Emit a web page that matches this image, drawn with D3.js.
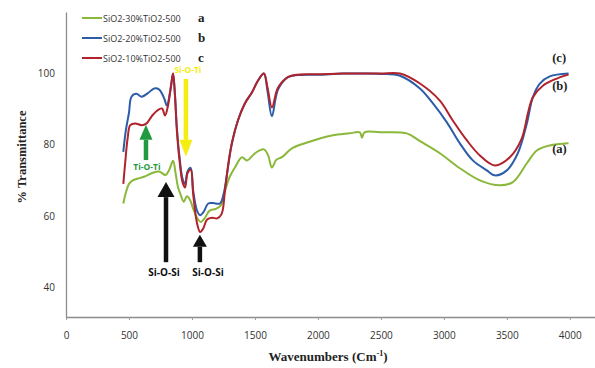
<!DOCTYPE html>
<html>
<head>
<meta charset="utf-8">
<script src="https://cdn.jsdelivr.net/npm/d3@7"></script>
<style>
  body { margin: 0; background: #fff; }
  #wrapper svg { display: block; }
  .tick text { font-family: "Open Sans", sans-serif; font-size: 10px; fill: #333; }
</style>
</head>
<body>
<div id="wrapper"></div>
<script>
// series labels (legend + right-hand letters)
const seriesNames = ["SiO2-30%TiO2-500", "SiO2-20%TiO2-500", "SiO2-10%TiO2-500"]
const seriesLetters = ["a", "b", "c"]
const xTickValues = [0, 500, 1000, 1500, 2000, 2500, 3000, 3500, 4000]
const yTickValues = [40, 60, 80, 100]

// [wavenumber, % transmittance]
const seriesA = [[455,63.5],[475,66.5],[500,69],[530,70],[570,70.5],[620,71],[680,72],[740,72.5],[790,71.5],[820,73],[850,75.5],[870,72],[890,68],[910,66],[935,64],[960,65.5],[985,64.5],[1010,62],[1040,59.5],[1070,58.3],[1100,59.3],[1140,61.5],[1190,62],[1230,63],[1262,67],[1300,71],[1341,73.6],[1397,76.5],[1437,75.6],[1500,77.6],[1571,78.7],[1605,77],[1635,73.6],[1670,75.8],[1714,76.5],[1794,79],[1921,80.7],[2111,82.6],[2250,83.2],[2333,83.5],[2350,82],[2370,83.5],[2492,83.5],[2706,83.2],[2810,81],[2968,77.6],[3127,73.4],[3286,70],[3444,68.6],[3548,69.5],[3659,74.8],[3738,78.4],[3841,79.8],[3990,80.4]]
const seriesB = [[455,78],[475,84],[500,89],[520,93.5],[560,94.3],[600,93.5],[650,94.5],[700,95.8],[740,95.5],[780,93],[800,91],[830,95.5],[850,100],[865,94],[880,85],[900,77],[925,70.5],[945,69],[965,72.5],[990,73.5],[1010,67],[1040,61.5],[1065,60.2],[1090,61],[1130,63.5],[1167,63.6],[1222,63.5],[1250,66],[1275,71],[1317,80.4],[1365,86.8],[1420,91.6],[1476,94.7],[1524,98],[1571,100],[1600,95],[1635,88],[1683,95.5],[1762,99],[1841,99.6],[2000,99.7],[2200,100],[2350,100],[2500,99.9],[2651,99.4],[2810,95.8],[2913,91.6],[3024,86.3],[3127,80.4],[3230,75.6],[3341,72.8],[3405,71.4],[3500,72.8],[3587,77.6],[3659,86],[3706,93.3],[3762,97.2],[3841,99.2],[3990,100]]
const seriesC = [[455,69],[470,75],[490,82],[510,85.5],[550,86],[600,85.5],[640,86],[680,88],[720,89.5],[762,90.2],[786,88.2],[810,91],[835,97],[850,100],[865,94],[880,84],[900,76],[925,69.5],[945,68],[965,72],[990,73],[1010,66],[1040,58],[1065,55.5],[1090,56.5],[1120,59],[1160,59.5],[1200,59.3],[1235,60.5],[1262,67],[1290,75],[1317,80.4],[1365,86.8],[1420,91.6],[1476,94.7],[1524,98],[1571,100],[1600,96],[1635,90.5],[1683,96],[1762,99],[1841,99.7],[2000,99.8],[2200,100],[2350,100],[2500,100],[2651,100],[2810,97.2],[2968,92.4],[3071,86.8],[3183,81.2],[3286,77],[3405,74.2],[3524,76.5],[3619,81.8],[3667,88.8],[3706,93.3],[3786,96.6],[3897,98.6],[3990,99.7]]

// band annotations: [label, wavenumber, tail %T, tip %T, label wavenumber, label %T]
const bandNotes = [
  ["Si-O-Ti", 952, 98.5, 76.6, 968, 100.3],
  ["Ti-O-Ti", 635, 75.7, 85.6, 643, 72.9],
  ["Si-O-Si", 794, 47, 69.5, 778, 43],
  ["Si-O-Si", 1063, 47, 54.7, 1127, 43]
]

function drawChart() {
  const dims = {
    width: 595,
    height: 368,
    margin: { top: 12, right: 0, bottom: 51, left: 66 },
  }
  dims.boundWidth = dims.width - dims.margin.left - dims.margin.right
  dims.boundHeight = dims.height - dims.margin.top - dims.margin.bottom

  const svg = d3.select("#wrapper")
    .append("svg")
      .attr("width", dims.width)
      .attr("height", dims.height)

  const bound = svg.append("g")
    .attr("transform", `translate(${dims.margin.left},${dims.margin.top})`)

  const xScale = d3.scaleLinear()
    .domain([0, 4200])
    .range([0, dims.boundWidth])

  const yScale = d3.scaleLinear()
    .domain([31.6, 117.3])
    .range([dims.boundHeight, 0])

  // axes
  const xAxis = bound.append("g")
    .attr("transform", `translate(0,${dims.boundHeight})`)
    .call(d3.axisBottom(xScale).tickValues(xTickValues).tickFormat(d3.format("d"))
      .tickSize(3).tickPadding(12).tickSizeOuter(0))
  const yAxis = bound.append("g")
    .call(d3.axisLeft(yScale).tickValues(yTickValues).tickSize(0).tickPadding(11).tickSizeOuter(0))
  bound.selectAll(".domain").attr("stroke", "#8c8c8c").attr("stroke-width", 1.3)
  bound.selectAll(".tick line").attr("stroke", "#9a9a9a")

  // curves
  const colors = ["#8ab83a", "#2d5ca8", "#b0232b"]
  const line = d3.line()
    .x(d => xScale(d[0]))
    .y(d => yScale(d[1]))
    .curve(d3.curveCatmullRom.alpha(0.5))
  const allSeries = [seriesA, seriesB, seriesC]
  allSeries.forEach((s, i) => {
    bound.append("path")
      .attr("d", line(s))
      .attr("fill", "none")
      .attr("stroke", colors[i])
      .attr("stroke-width", 2)
      .attr("stroke-linejoin", "round")
  })

  // legend
  const legend = svg.append("g").attr("transform", "translate(82,18)")
  seriesNames.forEach((name, i) => {
    const row = legend.append("g").attr("transform", `translate(0,${i * 20})`)
    row.append("line").attr("x1", 0).attr("x2", 20)
      .attr("stroke", colors[i]).attr("stroke-width", 2)
    row.append("text").attr("x", 21).attr("y", 3.5)
      .style("font-family", "'Open Sans', sans-serif").style("font-size", "9px")
      .attr("fill", "#333").text(name)
    row.append("text").attr("x", 116).attr("y", 3.5)
      .style("font-family", "'Liberation Serif', serif").style("font-size", "13px").style("font-weight", "bold")
      .attr("fill", "#222").text(seriesLetters[i])
  })

  // right-hand letters next to curve ends
  const endLabels = [["(c)", 104.5], ["(b)", 96.6], ["(a)", 78.8]]
  endLabels.forEach(([t, v]) => {
    bound.append("text")
      .attr("x", xScale(3860)).attr("y", yScale(v) + 4)
      .style("font-family", "'Liberation Serif', serif").style("font-size", "12.5px").style("font-weight", "bold")
      .attr("fill", "#222").text(t)
  })

  // band arrows
  const arrowColors = ["#f4ee12", "#1f9a3e", "#111", "#111"]
  const headSize = [[13, 17], [13, 15], [17, 15], [14, 12]]
  bandNotes.forEach((n, i) => {
    const [label, wn, tailT, tipT, lwn, lT] = n
    const x = xScale(wn), y0 = yScale(tailT), y1 = yScale(tipT)
    const dir = y1 < y0 ? 1 : -1
    const [hw, hl] = headSize[i]
    const base = y1 + dir * hl
    const g = bound.append("g")
    g.append("line").attr("x1", x).attr("x2", x).attr("y1", y0).attr("y2", base)
      .attr("stroke", arrowColors[i]).attr("stroke-width", 4.5)
    g.append("path")
      .attr("d", `M${x - hw / 2},${base}L${x + hw / 2},${base}L${x},${y1}Z`)
      .attr("fill", arrowColors[i])
    g.append("text")
      .attr("x", xScale(lwn)).attr("y", yScale(lT))
      .attr("text-anchor", "middle")
      .style("font-family", "'Open Sans', sans-serif").style("font-size", i < 2 ? "8.5px" : "10px").style("font-weight", "bold")
      .attr("fill", arrowColors[i]).text(label)
  })

  // axis titles
  svg.append("text")
    .attr("x", 328).attr("y", 361)
    .attr("text-anchor", "middle")
    .style("font-family", "'Liberation Serif', serif").style("font-size", "13px").style("font-weight", "bold")
    .attr("fill", "#222")
    .html('Wavenumbers (Cm<tspan dy="-5" font-size="8px">-1</tspan><tspan dy="5">)</tspan>')
  svg.append("text")
    .attr("transform", "translate(26,157) rotate(-90)")
    .attr("text-anchor", "middle")
    .style("font-family", "'Liberation Serif', serif").style("font-size", "12.5px").style("font-weight", "bold")
    .attr("fill", "#222")
    .text("% Transmittance")
}

drawChart()
</script>
</body>
</html>
